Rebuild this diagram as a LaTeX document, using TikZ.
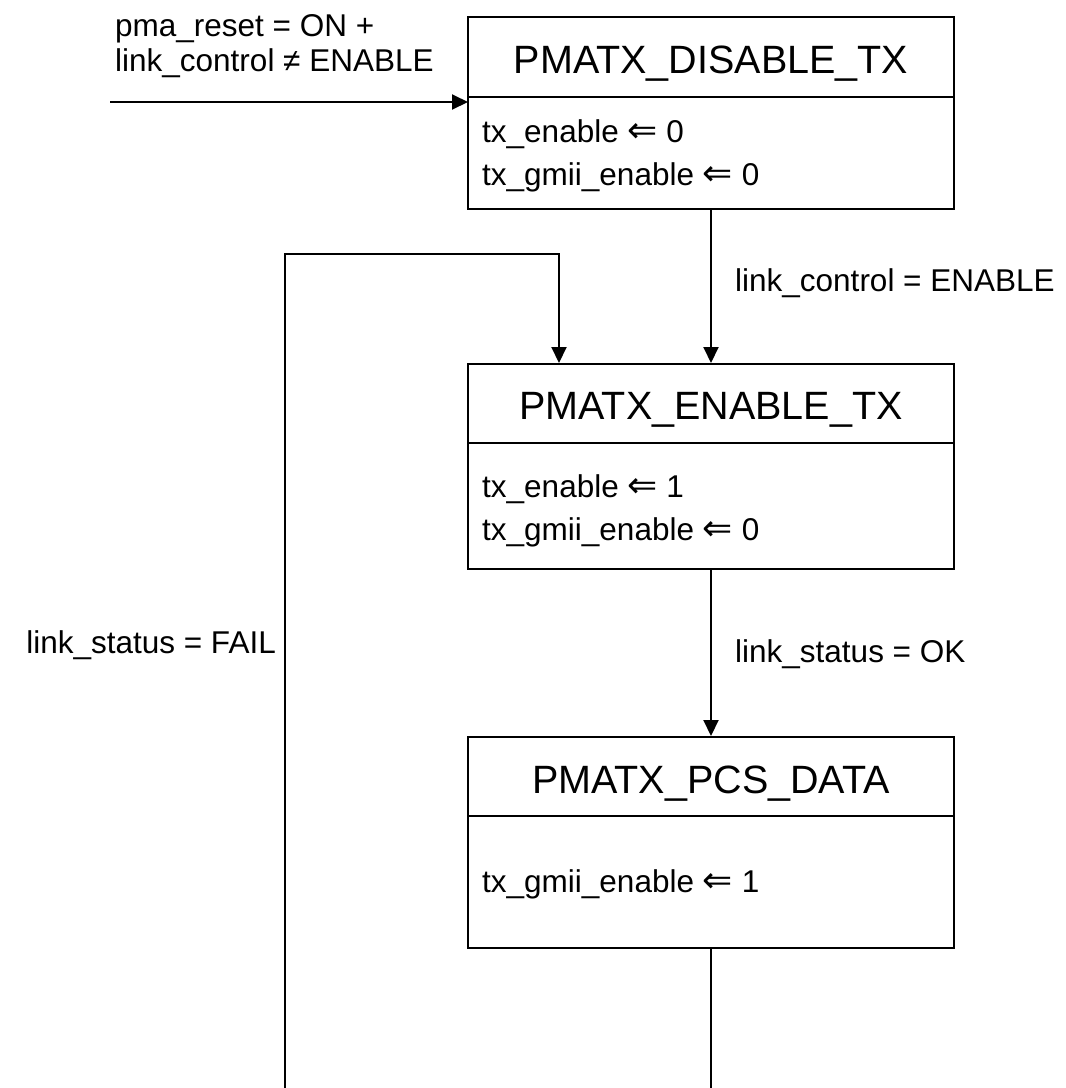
\documentclass[tikz,border=0pt]{standalone}
\usepackage{fontspec}
\setmainfont{Liberation Sans}
\newfontfamily\symfnt{DejaVu Sans}
\usetikzlibrary{arrows.meta}
\newcommand\lar{{\symfnt\fontsize{36}{43}\selectfont ⇐}}
\tikzset{
  statebox/.style={draw, line width=2pt, minimum width=486pt, inner sep=0pt},
  divline/.style={line width=2pt},
  headtxt/.style={font=\fontsize{39.5}{44}\selectfont, inner sep=0pt},
  bodytxt/.style={font=\fontsize{31.5}{43}\selectfont, anchor=west, align=left, inner sep=0pt},
  lbl/.style={font=\fontsize{31.5}{35}\selectfont, align=left, inner sep=0pt},
  conn/.style={line width=2pt, -{Triangle[length=16pt,width=15pt]}},
  plain/.style={line width=2pt}
}
\begin{document}
\begin{tikzpicture}[x=1pt,y=-1pt]
\useasboundingbox (0,0) rectangle (1066,1088);
% state boxes
\node[statebox, minimum height=192pt] (s1) at (711,113) {};
\node[statebox, minimum height=205pt] (s2) at (711,466.5) {};
\node[statebox, minimum height=211pt] (s3) at (711,842.5) {};
% dividers
\draw[divline] ([yshift=-81pt]s1.north west) -- ([yshift=-81pt]s1.north east);
\draw[divline] ([yshift=-80pt]s2.north west) -- ([yshift=-80pt]s2.north east);
\draw[divline] ([yshift=-80pt]s3.north west) -- ([yshift=-80pt]s3.north east);
% headers
\node[headtxt] (h1) at (711,64) {PMATX\_DISABLE\_TX};
\node[headtxt] (h2) at (711,410) {PMATX\_ENABLE\_TX};
\node[headtxt] (h3) at (711,784) {PMATX\_PCS\_DATA};
% bodies
\node[bodytxt] (b1) at (482,155.5) {tx\_enable \lar{} 0\\tx\_gmii\_enable \lar{} 0};
\node[bodytxt] (b2) at (482,510.5) {tx\_enable \lar{} 1\\tx\_gmii\_enable \lar{} 0};
\node[bodytxt] (b3) at (482,884.5) {tx\_gmii\_enable \lar{} 1};
% free ends
\coordinate (start) at (110,102);
\coordinate (tgt1) at (468,102);
\coordinate (loopbot) at (285,1088);
\coordinate (looptl) at (285,254);
\coordinate (looptr) at (559,254);
\coordinate (outbot) at (711,1088);
% connectors
\draw[conn] (start) -- (tgt1);
\draw[conn] (s1.south) -- (s2.north);
\draw[conn] (s2.south) -- (s3.north);
\draw[conn] (loopbot) -- (looptl) -- (looptr) -- (looptr |- s2.north);
\draw[plain] (s3.south) -- (outbot);
% labels
\node[lbl, anchor=west] (l0) at (115,46.5) {pma\_reset = ON +\\link\_control ≠ ENABLE};
\node[lbl, anchor=west] (l1) at (735,283) {link\_control = ENABLE};
\node[lbl, anchor=west] (l2) at (735,654) {link\_status = OK};
\node[lbl, anchor=east] (l3) at (276,645) {link\_status = FAIL};
\end{tikzpicture}
\end{document}
